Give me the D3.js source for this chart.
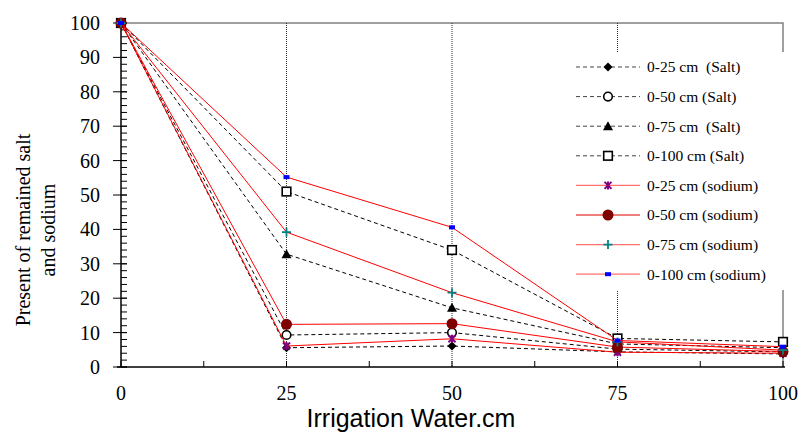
<!DOCTYPE html>
<html>
<head>
<meta charset="utf-8">
<script src="https://cdn.jsdelivr.net/npm/d3@7"></script>
<style>
  body { margin: 0; background: #fff; }
</style>
</head>
<body>
<div id="chart"></div>
<script>
// Data
const irrigation = [0, 25, 50, 75, 100];
const salt25 = [100, 5.6, 6.1, 4.4, 3.8];
const salt50 = [100, 9.3, 10.0, 5.2, 4.4];
const salt75 = [100, 32.8, 17.2, 6.7, 5.6];
const salt100 = [100, 51.0, 34.0, 8.3, 7.3];
const sodium25 = [100, 6.1, 8.2, 4.3, 4.0];
const sodium50 = [100, 12.4, 12.6, 5.8, 4.5];
const sodium75 = [100, 39.2, 21.6, 7.3, 4.9];
const sodium100 = [100, 55.2, 40.6, 7.7, 5.9];
const seriesLabels = [
  '0-25 cm  (Salt)', '0-50 cm (Salt)', '0-75 cm  (Salt)', '0-100 cm (Salt)',
  '0-25 cm (sodium)', '0-50 cm (sodium)', '0-75 cm (sodium)', '0-100 cm (sodium)',
];
const yTicks = [0, 10, 20, 30, 40, 50, 60, 70, 80, 90, 100];
const xTicks = [0, 25, 50, 75, 100];

const SERIF = "'Liberation Serif', 'Times New Roman', serif";
const SANS = "'Liberation Sans', Arial, sans-serif";

const config = {
  width: 801,
  height: 435,
  margin: { top: 23, right: 18, bottom: 68, left: 121 },
};
const innerW = 783 - config.margin.left;
const innerH = 367 - config.margin.top;

// marker / line style per series, same order as the labels
const styles = [
  { dash: '4,3', line: '#000', legendLine: '#444', marker: 'diamond', fill: '#000', stroke: '#000' },
  { dash: '4,3', line: '#000', legendLine: '#444', marker: 'circle', fill: '#fff', stroke: '#000' },
  { dash: '4,3', line: '#000', legendLine: '#444', marker: 'triangle', fill: '#000', stroke: '#000' },
  { dash: '4,3', line: '#000', legendLine: '#444', marker: 'square', fill: '#fff', stroke: '#000' },
  { dash: null, line: '#ff0000', legendLine: '#ff7070', marker: 'star', fill: 'none', stroke: '#800080' },
  { dash: null, line: '#ff0000', legendLine: '#e00000', marker: 'bigcircle', fill: '#800000', stroke: '#800000' },
  { dash: null, line: '#ff0000', legendLine: '#ff7070', marker: 'plus', fill: 'none', stroke: '#008080' },
  { dash: null, line: '#ff0000', legendLine: '#ff7070', marker: 'dash', fill: '#0000ff', stroke: '#0000ff' },
];

const allSeries = [salt25, salt50, salt75, salt100, sodium25, sodium50, sodium75, sodium100]
  .map((values, i) => ({
    label: seriesLabels[i],
    style: styles[i],
    points: values.map((v, j) => ({ x: irrigation[j], y: v })),
  }));

const svg = d3.select('#chart').append('svg')
  .attr('width', config.width)
  .attr('height', config.height)
  .style('font-family', SERIF);

const chart = svg.append('g')
  .attr('transform', `translate(${config.margin.left},${config.margin.top})`);

const xScale = d3.scaleLinear().domain([0, 100]).range([0, innerW]);
const yScale = d3.scaleLinear().domain([0, 100]).range([innerH, 0]);

// grey frame on top and right
chart.append('path')
  .attr('d', `M0,0H${innerW}V${innerH}`)
  .attr('fill', 'none')
  .attr('stroke', '#808080')
  .attr('stroke-width', 1.5);

// dotted vertical grid lines at 25, 50, 75
chart.selectAll('.vgrid')
  .data([25, 50, 75])
  .join('line')
  .attr('class', 'vgrid')
  .attr('x1', (d) => xScale(d))
  .attr('x2', (d) => xScale(d))
  .attr('y1', 0)
  .attr('y2', innerH)
  .attr('stroke', '#333')
  .attr('stroke-width', 1)
  .attr('stroke-dasharray', '1,1');

// Y axis: major ticks crossing the line, minor ticks inside
const yAxisG = chart.append('g').attr('class', 'y-axis');
yAxisG.selectAll('.minor')
  .data(d3.range(0, 101, 2))
  .join('line')
  .attr('x1', 0)
  .attr('x2', 6)
  .attr('y1', (d) => yScale(d))
  .attr('y2', (d) => yScale(d))
  .attr('stroke', '#000');
yAxisG.selectAll('.major')
  .data(yTicks)
  .join('line')
  .attr('x1', -8)
  .attr('x2', 6)
  .attr('y1', (d) => yScale(d))
  .attr('y2', (d) => yScale(d))
  .attr('stroke', '#000');
yAxisG.append('line')
  .attr('x1', 0).attr('x2', 0)
  .attr('y1', 0).attr('y2', innerH)
  .attr('stroke', '#000')
  .attr('stroke-width', 1.5);
yAxisG.selectAll('.ylabel')
  .data(yTicks)
  .join('text')
  .attr('x', -21)
  .attr('y', (d) => yScale(d))
  .attr('dy', '0.35em')
  .attr('text-anchor', 'end')
  .style('font-family', SERIF)
  .style('font-size', '20px')
  .text((d) => d);

// X axis: ticks pointing up at every 12.5
const xAxisG = chart.append('g').attr('class', 'x-axis');
xAxisG.selectAll('.xtick')
  .data(d3.range(0, 101, 12.5))
  .join('line')
  .attr('x1', (d) => xScale(d))
  .attr('x2', (d) => xScale(d))
  .attr('y1', innerH)
  .attr('y2', innerH - 6)
  .attr('stroke', '#000');
xAxisG.append('line')
  .attr('x1', -4).attr('x2', innerW + 2)
  .attr('y1', innerH).attr('y2', innerH)
  .attr('stroke', '#000')
  .attr('stroke-width', 1.5);
xAxisG.selectAll('.xlabel')
  .data(xTicks)
  .join('text')
  .attr('x', (d) => xScale(d))
  .attr('y', innerH + 33)
  .attr('text-anchor', 'middle')
  .style('font-family', SERIF)
  .style('font-size', '20px')
  .text((d) => d);

// axis titles
svg.append('text')
  .attr('x', 411)
  .attr('y', 427)
  .attr('text-anchor', 'middle')
  .style('font-family', SANS)
  .style('font-size', '25px')
  .text('Irrigation Water.cm');

const yTitle = svg.append('text')
  .attr('transform', 'translate(30,230) rotate(-90)')
  .attr('text-anchor', 'middle')
  .style('font-family', SERIF)
  .style('font-size', '20px');
yTitle.append('tspan').attr('x', 0).attr('dy', 0).text('Present of remained salt');
yTitle.append('tspan').attr('x', 0).attr('dy', 25).text('and sodium');

// marker drawing helper
function drawMarker(sel, s) {
  const st = s.marker;
  if (st === 'diamond') {
    sel.append('path').attr('d', 'M0,-4.5L4.5,0L0,4.5L-4.5,0Z').attr('fill', s.fill);
  } else if (st === 'circle') {
    sel.append('circle').attr('r', 4.3).attr('fill', s.fill).attr('stroke', s.stroke).attr('stroke-width', 1.6);
  } else if (st === 'triangle') {
    sel.append('path').attr('d', 'M0,-5L5,4L-5,4Z').attr('fill', s.fill);
  } else if (st === 'square') {
    sel.append('rect').attr('x', -4.3).attr('y', -4.3).attr('width', 8.6).attr('height', 8.6)
      .attr('fill', s.fill).attr('stroke', s.stroke).attr('stroke-width', 1.6);
  } else if (st === 'star') {
    sel.append('path').attr('d', 'M-3.5,-3.5L3.5,3.5M3.5,-3.5L-3.5,3.5M0,-4V4')
      .attr('stroke', s.stroke).attr('stroke-width', 2);
  } else if (st === 'bigcircle') {
    sel.append('circle').attr('r', 5.5).attr('fill', s.fill);
  } else if (st === 'plus') {
    sel.append('path').attr('d', 'M-4.5,0H4.5M0,-4.5V4.5')
      .attr('stroke', s.stroke).attr('stroke-width', 1.8);
  } else if (st === 'dash') {
    sel.append('rect').attr('x', -3).attr('y', -2).attr('width', 6).attr('height', 4).attr('fill', s.fill);
  }
}

const line = d3.line()
  .x((d) => xScale(d.x))
  .y((d) => yScale(d.y));

// series lines then markers
const seriesG = chart.selectAll('.series')
  .data(allSeries)
  .join('g')
  .attr('class', 'series');

seriesG.append('path')
  .attr('d', (d) => line(d.points))
  .attr('fill', 'none')
  .attr('stroke', (d) => d.style.line)
  .attr('stroke-width', 1)
  .attr('stroke-dasharray', (d) => d.style.dash);

seriesG.each(function (d) {
  d3.select(this).selectAll('.pt')
    .data(d.points)
    .join('g')
    .attr('class', 'pt')
    .attr('transform', (p) => `translate(${xScale(p.x)},${yScale(p.y)})`)
    .each(function () { drawMarker(d3.select(this), d.style); });
});

// Legend with a white box that hides the frame behind it
const legend = svg.append('g').attr('class', 'legend');
legend.append('rect')
  .attr('x', 556).attr('y', 52)
  .attr('width', 245).attr('height', 238)
  .attr('fill', '#fff');

const legendItem = legend.selectAll('.item')
  .data(allSeries)
  .join('g')
  .attr('class', 'item')
  .attr('transform', (d, i) => `translate(576,${67 + i * 29.6})`);

legendItem.append('line')
  .attr('x1', 0).attr('x2', 64)
  .attr('stroke', (d) => d.style.legendLine)
  .attr('stroke-width', (d) => (d.style.dash ? 1 : 1.2))
  .attr('stroke-dasharray', (d) => d.style.dash);

legendItem.append('g')
  .attr('transform', 'translate(32,0)')
  .each(function (d) { drawMarker(d3.select(this), d.style); });

legendItem.append('text')
  .attr('x', 71)
  .attr('dy', '0.35em')
  .style('font-family', SERIF)
  .style('font-size', '15.5px')
  .style('white-space', 'pre')
  .text((d) => d.label);
</script>
</body>
</html>
